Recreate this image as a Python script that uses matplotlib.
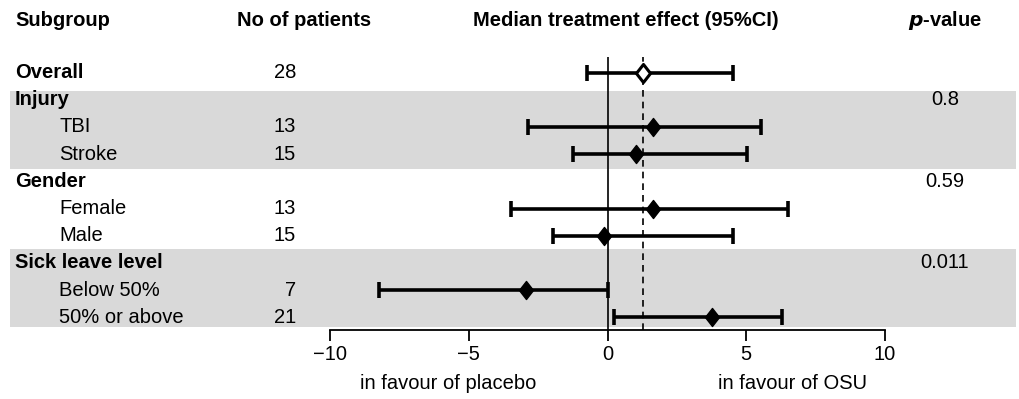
import matplotlib
matplotlib.use("Agg")
import matplotlib.pyplot as plt
from matplotlib.path import Path

plt.rcParams['font.family'] = ['Liberation Sans', 'DejaVu Sans']

# ---- data ----
labels = ["Overall", "Injury", "TBI", "Stroke", "Gender", "Female", "Male",
          "Sick leave level", "Below 50%", "50% or above"]
is_header = [True, True, False, False, True, False, False, True, False, False]
n_patients = ["28", "", "13", "15", "", "13", "15", "", "7", "21"]
estimate = [1.27, None, 1.64, 1.01, None, 1.64, -0.12, None, -2.92, 3.76]
ci_low = [-0.74, None, -2.86, -1.24, None, -3.48, -1.98, None, -8.24, 0.25]
ci_high = [4.52, None, 5.54, 5.04, None, 6.51, 4.52, None, 0.0, 6.28]
p_values = ["", "0.8", "", "", "0.59", "", "", "0.011", "", ""]
overall_effect = 1.27
xticks = [-10, -5, 0, 5, 10]
xticklabels = ["\u221210", "\u22125", "0", "5", "10"]

W, H = 1019, 399
fig = plt.figure(figsize=(W / 100, H / 100), dpi=100)

# axes region in pixels
ax_left, ax_right, ax_top, ax_bottom = 330, 885, 57, 330
ax = fig.add_axes([ax_left / W, (H - ax_bottom) / H,
                   (ax_right - ax_left) / W, (ax_bottom - ax_top) / H])
row0_px, row_sp = 72.5, 27.2
ylow = (ax_bottom - row0_px) / row_sp
yhigh = (ax_top - row0_px) / row_sp
ax.set_xlim(-10, 10)
ax.set_ylim(ylow, yhigh)
ax.patch.set_alpha(0)
for s in ["top", "right", "left"]:
    ax.spines[s].set_visible(False)
ax.spines["bottom"].set_linewidth(1.3)
ax.set_yticks([])
ax.set_xticks(xticks)
fs = 14.5
ax.set_xticklabels(xticklabels, fontsize=fs)
ax.tick_params(axis='x', length=8, width=1.3, pad=3, direction='out')

# gray bands (span full width of figure)
px_per_unit = (ax_right - ax_left) / 20.0
x_fig_left = -10 + (10 - ax_left) / px_per_unit
x_fig_right = -10 + (1016 - ax_left) / px_per_unit
for (a, b) in [(0.68, 3.55), (6.49, 9.35)]:
    ax.fill_between([x_fig_left, x_fig_right], a, b, color="#d9d9d9",
                    lw=0, zorder=0, clip_on=False)

# reference lines
ax.axvline(0, color="black", lw=1.2, zorder=2)
ax.axvline(overall_effect, color="black", lw=1.2, ls=(0, (4, 3)), zorder=2)

# tall diamond marker
diamond = Path([(0, 1), (0.78, 0), (0, -1), (-0.78, 0), (0, 1)],
               [Path.MOVETO, Path.LINETO, Path.LINETO, Path.LINETO,
                Path.CLOSEPOLY])

# CI bars and markers
for i in range(len(labels)):
    if estimate[i] is None:
        continue
    ax.errorbar(estimate[i], i,
                xerr=[[estimate[i] - ci_low[i]], [ci_high[i] - estimate[i]]],
                fmt='none', ecolor='black', elinewidth=2.6, capsize=6,
                capthick=2.6, zorder=3)
    if i == 0:
        ax.plot(estimate[i], i, marker=diamond, ms=13, mfc='white',
                mec='black', mew=2.2, zorder=4)
    else:
        ax.plot(estimate[i], i, marker=diamond, ms=13, color='black',
                zorder=4)

# text columns (data coords x in effect units, y in rows)
def xpx(px):
    return -10 + (px - ax_left) / px_per_unit

hdr_y = (20 - row0_px) / row_sp
ax.text(xpx(15), hdr_y, "Subgroup", fontsize=fs, fontweight='bold',
        ha='left', va='center', clip_on=False)
ax.text(xpx(304), hdr_y, "No of patients", fontsize=fs, fontweight='bold',
        ha='center', va='center', clip_on=False)
ax.text(xpx(626), hdr_y, "Median treatment effect (95%CI)", fontsize=fs,
        fontweight='bold', ha='center', va='center', clip_on=False)
ax.text(xpx(945), hdr_y, r"$\boldsymbol{p}$-value", fontsize=fs,
        fontweight='bold', ha='center', va='center', clip_on=False)

for i, lab in enumerate(labels):
    if is_header[i]:
        ax.text(xpx(15), i, lab, fontsize=fs, fontweight='bold', ha='left',
                va='center', clip_on=False)
    else:
        ax.text(xpx(59), i, lab, fontsize=fs, ha='left', va='center',
                clip_on=False)
    if n_patients[i]:
        ax.text(xpx(296), i, n_patients[i], fontsize=fs, ha='right',
                va='center', clip_on=False)
    if p_values[i]:
        ax.text(xpx(945), i, p_values[i], fontsize=fs, ha='center',
                va='center', clip_on=False)

fav_y = (383 - row0_px) / row_sp
ax.text(xpx(448), fav_y, "in favour of placebo", fontsize=fs, ha='center',
        va='center', clip_on=False)
ax.text(xpx(792), fav_y, "in favour of OSU", fontsize=fs, ha='center',
        va='center', clip_on=False)

fig.savefig("out.png", dpi=100)
